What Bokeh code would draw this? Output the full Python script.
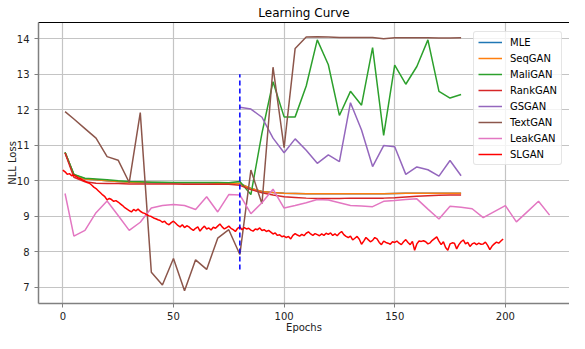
from bokeh.plotting import figure
from bokeh.models import Range1d, LinearAxis, FixedTicker, Title
from bokeh.embed import file_html
from bokeh.resources import INLINE

# ---------------- data ----------------
epochs_step = [1] + list(range(5, 181, 5))          # 1, 5, 10, ..., 180
epochs_gsgan = list(range(80, 181, 5))              # 80 .. 180
epochs_leak = [1] + list(range(5, 221, 5))          # 1 .. 220
epochs_sl = list(range(0, 200))                     # 0 .. 199

seqgan = [10.80, 10.17, 10.05, 10.03, 10.00, 9.98, 9.96, 9.95, 9.95, 9.94,
          9.94, 9.94, 9.94, 9.94, 9.93, 9.93, 9.92, 9.78, 9.70, 9.67,
          9.65, 9.64, 9.63, 9.63, 9.63, 9.63, 9.63, 9.63, 9.63, 9.63,
          9.64, 9.65, 9.65, 9.65, 9.65, 9.65, 9.65]
mle = list(seqgan)
maligan = [10.80, 10.18, 10.07, 10.05, 10.03, 10.00, 9.98, 9.97, 9.96, 9.96,
           9.95, 9.95, 9.95, 9.95, 9.95, 9.94, 9.98, 9.61, 11.34, 12.79,
           11.80, 11.80, 12.67, 13.97, 13.27, 11.84, 12.52, 12.13, 13.75, 11.28,
           13.26, 12.72, 13.22, 13.97, 12.52, 12.33, 12.43]
rankgan = [10.78, 10.10, 9.97, 9.93, 9.92, 9.92, 9.91, 9.91, 9.91, 9.91,
           9.91, 9.90, 9.90, 9.90, 9.90, 9.90, 9.87, 9.75, 9.66, 9.60,
           9.55, 9.53, 9.51, 9.50, 9.50, 9.50, 9.51, 9.51, 9.51, 9.51,
           9.52, 9.54, 9.56, 9.58, 9.59, 9.60, 9.60]
gsgan = [12.07, 12.02, 11.79, 11.20, 10.79, 11.18, 10.86, 10.49, 10.73, 10.54,
         12.20, 11.43, 10.40, 10.99, 10.96, 10.18, 10.39, 10.31, 10.13, 10.57,
         10.14]
textgan = [11.95, 11.74, 11.47, 11.20, 10.68, 10.58, 9.95, 11.92, 7.42, 7.06,
           7.81, 6.90, 7.77, 7.50, 8.38, 8.62, 7.92, 10.30, 9.35, 13.20,
           10.93, 13.73, 14.05, 14.06, 14.05, 14.04, 14.04, 14.04, 14.04, 14.00,
           14.03, 14.03, 14.03, 14.03, 14.02, 14.02, 14.03]
leakgan = [9.64, 8.44, 8.60, 9.10, 9.43, 9.02, 8.60, 8.83, 9.23, 9.30,
           9.33, 9.30, 9.19, 9.55, 9.12, 9.61, 9.60, 9.07, 9.38, 9.76,
           9.23, 9.30, 9.38, 9.47, 9.46, 9.38, 9.30, 9.29, 9.27, 9.42,
           9.44, 9.47, 9.49, 9.20, 8.92, 9.28, 9.25, 9.21, 8.96, 9.13,
           9.30, 8.84, 9.13, 9.42, 9.03]
slgan = [10.30, 10.25, 10.18, 10.20, 10.14, 10.16, 10.12, 10.08, 10.06, 10.02,
         9.99, 9.95, 9.93, 9.88, 9.82, 9.78, 9.72, 9.66, 9.60, 9.55,
         9.46, 9.50, 9.47, 9.42, 9.44, 9.40, 9.35, 9.30, 9.24, 9.20,
         9.16, 9.12, 9.19, 9.15, 9.20, 9.14, 9.10, 9.08, 9.04, 9.01,
         8.99, 8.95, 8.93, 8.90, 8.88, 8.83, 8.86, 8.79, 8.76, 8.82,
         8.86, 8.80, 8.74, 8.70, 8.76, 8.68, 8.73, 8.70, 8.64, 8.60,
         8.66, 8.70, 8.58, 8.66, 8.72, 8.64, 8.67, 8.61, 8.69, 8.66,
         8.72, 8.78, 8.70, 8.64, 8.68, 8.72, 8.66, 8.62, 8.57, 8.66,
         8.70, 8.62, 8.68, 8.64, 8.66, 8.61, 8.58, 8.64, 8.62, 8.67,
         8.60, 8.62, 8.57, 8.60, 8.55, 8.50, 8.53, 8.46, 8.48, 8.42,
         8.44, 8.40, 8.43, 8.36, 8.46, 8.51, 8.47, 8.44, 8.49, 8.45,
         8.52, 8.56, 8.50, 8.46, 8.51, 8.48, 8.45, 8.50, 8.46, 8.52,
         8.49, 8.53, 8.46, 8.50, 8.45, 8.52, 8.57, 8.48, 8.43, 8.40,
         8.44, 8.33, 8.38, 8.43, 8.35, 8.21, 8.30, 8.40, 8.34, 8.28,
         8.32, 8.40, 8.36, 8.26, 8.20, 8.30, 8.26, 8.24, 8.21, 8.28,
         8.26, 8.30, 8.24, 8.20, 8.28, 8.34, 8.26, 8.20, 8.29, 8.04,
         8.22, 8.30, 8.29, 8.31, 8.28, 8.22, 8.25, 8.32, 8.37, 8.42,
         8.30, 8.20, 8.28, 8.12, 8.04, 8.22, 8.25, 8.24, 8.08, 8.20,
         8.28, 8.33, 8.22, 8.26, 8.15, 8.22, 8.25, 8.20, 8.24, 8.21,
         8.22, 8.27, 8.18, 8.06, 8.16, 8.22, 8.27, 8.24, 8.30, 8.36]

pretrain_end_x = [80, 80]
pretrain_end_y = [7.5, 13.0]

x_ticks = [0, 50, 100, 150, 200]
y_ticks = [7, 8, 9, 10, 11, 12, 13, 14]

series = [
    ("MLE", epochs_step, mle, "#1f77b4"),
    ("SeqGAN", epochs_step, seqgan, "#ff7f0e"),
    ("MaliGAN", epochs_step, maligan, "#2ca02c"),
    ("RankGAN", epochs_step, rankgan, "#d62728"),
    ("GSGAN", epochs_gsgan, gsgan, "#9467bd"),
    ("TextGAN", epochs_step, textgan, "#8c564b"),
    ("LeakGAN", epochs_leak, leakgan, "#e377c2"),
    ("SLGAN", epochs_sl, slgan, "#ff0000"),
]

FONT = "DejaVu Sans"

p = figure(width=569, height=333, output_backend="svg", toolbar_location=None,
           x_range=Range1d(-11, 229), y_range=Range1d(6.54, 14.46),
           title="Learning Curve",
           min_border_left=38, min_border_right=0, min_border_top=17, min_border_bottom=0)

p.title.text_font = FONT
p.title.text_font_size = "12px"
p.title.text_font_style = "normal"
p.title.text_color = "#000000"
p.title.align = "center"
p.title.standoff = 6
p.title.offset = 0

p.outline_line_color = None
p.background_fill_color = "white"
p.border_fill_color = "white"

for r in p.xgrid + p.ygrid:
    r.grid_line_color = "#c4c4c4"
    r.grid_line_width = 1.2

for ax in (p.xaxis[0], p.yaxis[0]):
    ax.axis_line_color = "#808080"
    ax.axis_line_width = 1.5
    ax.major_tick_line_color = "#808080"
    ax.major_tick_out = 4
    ax.major_tick_in = 0
    ax.minor_tick_line_color = None
    ax.major_label_text_font = FONT
    ax.major_label_text_font_size = "10px"
    ax.major_label_text_color = "#222222"
    ax.axis_label_text_font = FONT
    ax.axis_label_text_font_size = "10px"
    ax.axis_label_text_font_style = "normal"
    ax.axis_label_text_color = "#222222"

p.xaxis[0].ticker = FixedTicker(ticks=x_ticks)
p.yaxis[0].ticker = FixedTicker(ticks=y_ticks)
p.yaxis[0].axis_label = "NLL Loss"
p.xaxis[0].major_label_standoff = 4
p.yaxis[0].major_label_standoff = 5
p.yaxis[0].axis_label_standoff = -4

x_title = Title(text="Epochs", align="center", text_font=FONT, text_font_size="10px",
                text_font_style="normal", text_color="#222222", standoff=-2, offset=0,
                text_line_height=0.3, vertical_align="top")
p.add_layout(x_title, "below")

top = LinearAxis(axis_line_color="black", axis_line_width=1,
                 major_tick_line_color=None, minor_tick_line_color=None,
                 major_label_text_font_size="0px", major_label_standoff=0,
                 ticker=FixedTicker(ticks=[]))
p.add_layout(top, "above")

for name, xs, ys, color in series:
    p.line(xs, ys, line_color=color, line_width=1.5, legend_label=name)

p.line(pretrain_end_x, pretrain_end_y, line_color="blue", line_width=1.5, line_dash="5 3")

lg = p.legend[0]
lg.location = (435, 138)
lg.margin = 0
lg.padding = 4
lg.spacing = 4
lg.label_text_font = FONT
lg.label_text_font_size = "10px"
lg.label_text_color = "#000000"
lg.label_height = 12
lg.glyph_height = 12
lg.glyph_width = 24
lg.label_standoff = 8
lg.label_width = 10
lg.border_line_color = "#cccccc"
lg.border_line_width = 1
lg.border_radius = 3
lg.background_fill_alpha = 0.8

open("out.html", "w").write(file_html(p, INLINE))
